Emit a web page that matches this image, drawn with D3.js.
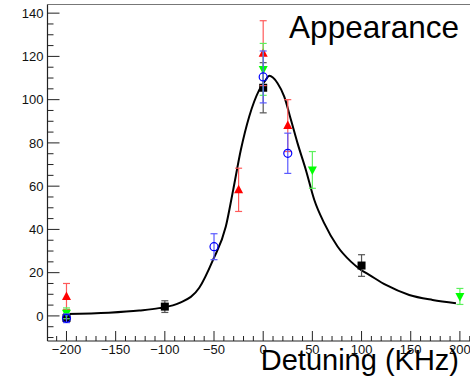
<!DOCTYPE html>
<html>
<head>
<meta charset="utf-8">
<script src="https://cdn.jsdelivr.net/npm/d3@7"></script>
<style>
  body { margin: 0; background: #fff; }
  svg { display: block; font-family: "Liberation Sans", Arial, sans-serif; }
</style>
</head>
<body>
<svg id="chart" width="470" height="379"></svg>
<script>
// data: x = detuning (kHz), y, err
var blackX = [-200, -100, 0, 100];
var blackY = [-1, 4.3, 105.5, 23.3];
var blackE = [2, 2.7, 11.6, 5];

var redX = [-200, -25, 0, 25];
var redY = [9, 58.3, 121.5, 88];
var redE = [6, 10, 15, 12];

var greenX = [-200, 0, 50, 200];
var greenY = [1.2, 114, 67.5, 9];
var greenE = [2.5, 12, 8.5, 3.7];

var blueX = [-200, -50, 0, 25];
var blueY = [-1.1, 32, 110.5, 75.2];
var blueE = [2, 6, 12, 9.3];

// fit curve, read point by point
var fitX = [-200, -157, -126, -106, -85, -65, -51, -38, -30.5, -22.7, -14.2, -4, 2.7, 6.1,
            14.6, 21.4, 28.2, 34.9, 43.4, 51.9, 62, 75.6, 89.2, 99.4, 107.8, 124.8, 148.5, 172.2, 196];
var fitY = [0.9, 1.5, 2.5, 3.6, 6, 13, 25.9, 41.3, 58.3, 76.8, 92.2, 104.5, 109.2, 111,
            107.6, 101.4, 90.7, 79.9, 67.5, 53.7, 42.9, 32.1, 25.1, 21.3, 19, 14.3, 9.7, 7.4, 5.9];

var xMajor = [-200, -150, -100, -50, 0, 50, 100, 150, 200];
var yMajor = [0, 20, 40, 60, 80, 100, 120, 140];

var svg = d3.select("#chart");
var padL = 47.5, padR = 472, padT = 4.5, padB = 341;

var x = d3.scaleLinear().domain([-219.3, 212.3]).range([padL, padR]);
var y = d3.scaleLinear().domain([-11.6, 144]).range([padB, padT]);

function fmt(v){ return v < 0 ? "\u2212" + Math.abs(v) : "" + v; }

// frame top
svg.append("line")
    .attr("x1", padL).attr("x2", 470).attr("y1", padT).attr("y2", padT)
    .attr("stroke", "#777").attr("stroke-width", 1.2);

// x axis
svg.append("line")
    .attr("x1", padL).attr("x2", 470).attr("y1", padB).attr("y2", padB)
    .attr("stroke", "#222").attr("stroke-width", 1.2);
d3.range(-210, 211, 10).forEach(function(v){
    var major = v % 50 === 0;
    svg.append("line")
        .attr("x1", x(v)).attr("x2", x(v))
        .attr("y1", padB).attr("y2", padB - (major ? 10 : 5))
        .attr("stroke", "#222").attr("stroke-width", 1);
});
svg.selectAll(".xl").data(xMajor).enter().append("text")
    .attr("x", d => x(d)).attr("y", 354)
    .attr("text-anchor", "middle")
    .attr("font-size", 13).attr("fill", "#111")
    .text(d => fmt(d));

// y axis
svg.append("line")
    .attr("x1", padL).attr("x2", padL).attr("y1", padT).attr("y2", padB)
    .attr("stroke", "#222").attr("stroke-width", 1.2);
d3.range(-10, 141, 5).forEach(function(v){
    var major = v % 20 === 0;
    svg.append("line")
        .attr("x1", padL).attr("x2", padL + (major ? 12 : 6))
        .attr("y1", y(v)).attr("y2", y(v))
        .attr("stroke", "#222").attr("stroke-width", 1);
});
svg.selectAll(".yl").data(yMajor).enter().append("text")
    .attr("x", 43.5).attr("y", d => y(d) + 4.6)
    .attr("text-anchor", "end")
    .attr("font-size", 13).attr("fill", "#111")
    .text(d => d);

// fit line
var line = d3.line().x(d => x(d[0])).y(d => y(d[1])).curve(d3.curveMonotoneX);
svg.append("path")
    .datum(d3.zip(fitX, fitY))
    .attr("d", line)
    .attr("fill", "none").attr("stroke", "#000").attr("stroke-width", 2);

function drawSeries(xs, ys, es, color, barColor, shape){
    var pts = xs.map((v, i) => ({x: v, y: ys[i], e: es[i]}));
    var g = svg.append("g");
    pts.forEach(function(p){
        var cx = x(p.x), y0 = y(p.y - p.e), y1 = y(p.y + p.e);
        g.append("line").attr("x1", cx).attr("x2", cx).attr("y1", y0).attr("y2", y1)
            .attr("stroke", barColor).attr("stroke-width", 1.2);
        [y0, y1].forEach(function(yy){
            g.append("line").attr("x1", cx - 3.5).attr("x2", cx + 3.5).attr("y1", yy).attr("y2", yy)
                .attr("stroke", barColor).attr("stroke-width", 1.2);
        });
    });
    pts.forEach(function(p){
        var cx = x(p.x), cy = y(p.y);
        if (shape === "square") {
            g.append("rect").attr("x", cx - 4).attr("y", cy - 4).attr("width", 8).attr("height", 8)
                .attr("fill", color);
        } else if (shape === "up") {
            g.append("path").attr("d", "M" + cx + "," + (cy - 5) + "L" + (cx + 4.5) + "," + (cy + 3.5) + "L" + (cx - 4.5) + "," + (cy + 3.5) + "Z")
                .attr("fill", color);
        } else if (shape === "down") {
            g.append("path").attr("d", "M" + cx + "," + (cy + 5) + "L" + (cx + 4.5) + "," + (cy - 3.5) + "L" + (cx - 4.5) + "," + (cy - 3.5) + "Z")
                .attr("fill", color);
        } else {
            g.append("circle").attr("cx", cx).attr("cy", cy).attr("r", 4)
                .attr("fill", "none").attr("stroke", color).attr("stroke-width", 1.2);
        }
    });
}

drawSeries(blackX, blackY, blackE, "#000", "#555", "square");
drawSeries(redX, redY, redE, "#f00", "#ff5a5a", "up");
drawSeries(greenX, greenY, greenE, "#0f0", "#5cf05c", "down");
drawSeries(blueX, blueY, blueE, "#00f", "#5a5aff", "circle");

// titles
svg.append("text")
    .attr("x", 459).attr("y", 38)
    .attr("text-anchor", "end").attr("font-size", 31.5).attr("fill", "#000")
    .text("Appearance");
svg.append("text")
    .attr("x", 459).attr("y", 370)
    .attr("text-anchor", "end").attr("font-size", 29).attr("fill", "#000")
    .text("Detuning (KHz)");
</script>
</body>
</html>
